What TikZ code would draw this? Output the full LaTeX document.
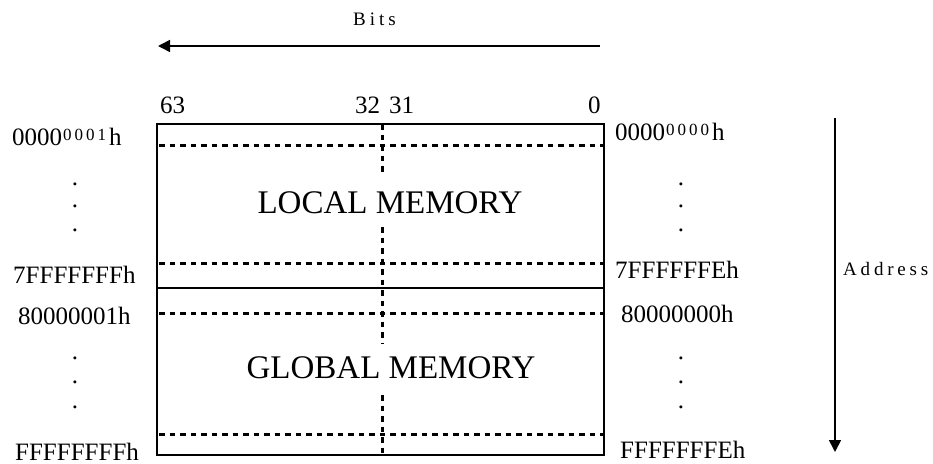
\documentclass[tikz,border=0pt]{standalone}
\usepackage{fontspec}
\setmainfont{Liberation Serif}
\usetikzlibrary{arrows.meta}
\newcommand{\smdig}[4]{\kern1pt\raisebox{5pt}{\fontsize{17}{17}\selectfont #1\kern3pt#2\kern3pt#3\kern3pt#4}\kern3pt}
\tikzset{
  lbl/.style={font=\fontsize{25}{25}\selectfont, inner sep=0pt, anchor=base west},
  dotlbl/.style={font=\fontsize{25}{25}\selectfont, inner sep=0pt, anchor=base},
  big/.style={font=\fontsize{33}{33}\selectfont, inner sep=0pt, anchor=center},
  axislbl/.style={font=\fontsize{19}{19}\selectfont, inner sep=0pt, anchor=base west},
  boxline/.style={line width=1.6pt},
  dashline/.style={line width=3pt, dash pattern=on 5.5pt off 5pt},
  axisarrow/.style={line width=1.6pt, -{Triangle[length=12pt,width=12pt]}}
}
\begin{document}
\begin{tikzpicture}[x=1pt,y=-1pt]
\useasboundingbox (0,0) rectangle (933,463);
% box
\coordinate (tl) at (157,124);
\coordinate (br) at (604,455);
\draw[boxline] (tl) rectangle (br);
\draw[boxline] (157,288) coordinate (ml) -- (604,288) coordinate (mr);
% dashed horizontals
\foreach \yy/\nm in {145/a,263/b,313/c,434/d}{
  \draw[dashline] (159,\yy) coordinate (h\nm l) -- (603,\yy) coordinate (h\nm r);
}
% vertical dashed, interrupted by the texts
\coordinate (v0) at (382,124);
\coordinate (v1) at (382,172);
\coordinate (v2) at (382,227);
\coordinate (v3) at (382,343);
\coordinate (v4) at (382,395);
\coordinate (v5) at (382,455);
\draw[dashline] (v0) -- (v1);
\draw[dashline] (v2) -- (v3);
\draw[dashline] (v4) -- (v5);
% memory texts
\node[big] (local) at (390,203) {LOCAL MEMORY};
\node[big] (global) at (391,368) {GLOBAL MEMORY};
% bit numbers
\node[lbl] (b63) at (160,113) {63};
\node[lbl] (b32) at (355,113) {32};
\node[lbl] (b31) at (389,113) {31};
\node[lbl] (b0) at (588,113) {0};
% left addresses
\node[lbl] (la1) at (12,145) {0000\smdig0001h};
\node[dotlbl] (ld1) at (75,185.5) {.};
\node[dotlbl] (ld2) at (75,207.5) {.};
\node[dotlbl] (ld3) at (75,231.5) {.};
\node[lbl] (la2) at (13,283) {7FFFFFFFh};
\node[lbl] (la3) at (18,324) {80000001h};
\node[dotlbl] (ld4) at (75,359.5) {.};
\node[dotlbl] (ld5) at (75,383.5) {.};
\node[dotlbl] (ld6) at (75,408.5) {.};
\node[lbl] (la4) at (15,460) {FFFFFFFFh};
% right addresses
\node[lbl] (ra1) at (615,140) {0000\smdig0000h};
\node[dotlbl] (rd1) at (681,185.5) {.};
\node[dotlbl] (rd2) at (681,207.5) {.};
\node[dotlbl] (rd3) at (681,231.5) {.};
\node[lbl] (ra2) at (615,278) {7FFFFFFEh};
\node[lbl] (ra3) at (621,322) {80000000h};
\node[dotlbl] (rd4) at (681,359.5) {.};
\node[dotlbl] (rd5) at (681,383.5) {.};
\node[dotlbl] (rd6) at (681,408.5) {.};
\node[lbl] (ra4) at (620,458) {FFFFFFFEh};
% axes
\node[axislbl] (bits) at (353,25) {B\kern4pt i\kern4pt t\kern4pt s};
\coordinate (bs) at (600,46);
\coordinate (be) at (158,46);
\draw[axisarrow] (bs) -- (be);
\node[axislbl] (addr) at (843,275) {A\kern3.8pt d\kern3.8pt d\kern3.8pt r\kern3.8pt e\kern3.8pt s\kern3.8pt s};
\coordinate (as) at (835,118);
\coordinate (ae) at (835,452);
\draw[axisarrow] (as) -- (ae);
\end{tikzpicture}
\end{document}
